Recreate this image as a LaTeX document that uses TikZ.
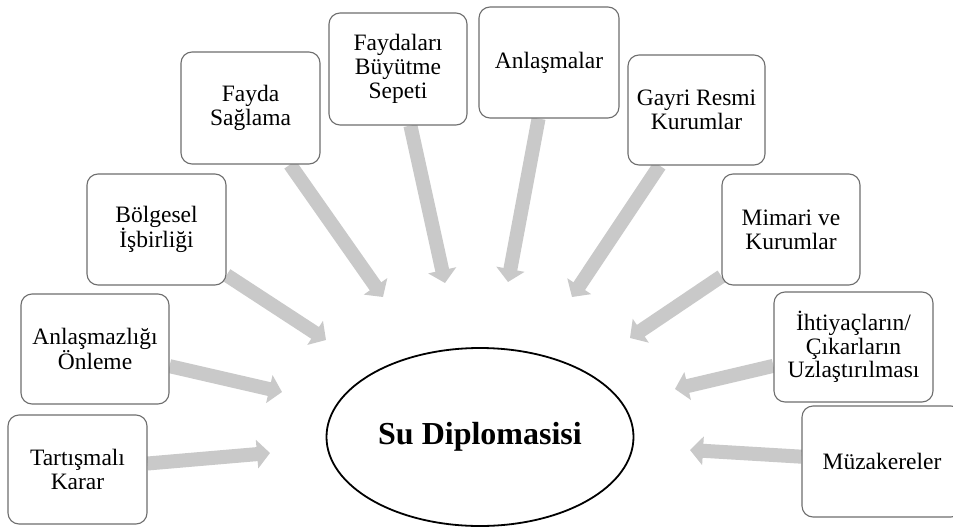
\documentclass[tikz,border=0pt]{standalone}
\usepackage{fontspec}
\setmainfont{Liberation Serif}
\usetikzlibrary{shapes.geometric,arrows.meta,backgrounds}
\definecolor{arrowgray}{HTML}{C9C9C9}
\definecolor{boxgray}{HTML}{6E6E6E}
\tikzset{
  itembox/.style={draw=boxgray, line width=1.1pt, fill=white, rounded corners=11pt,
    align=center, inner sep=2pt, font=\fontsize{23.5}{23.8}\selectfont},
  bigarrow/.style={draw=arrowgray, line width=14pt,
    -{Triangle[width=28pt,length=13pt]}},
  center/.style={draw=black, line width=1.8pt, ellipse, inner sep=0pt,
    minimum width=307pt, minimum height=178pt, fill=white,
    font=\fontsize{32}{36}\selectfont\bfseries}
}
\begin{document}
\begin{tikzpicture}[x=1pt,y=-1pt]
\clip (0,0) rectangle (953,530);
% boxes
\node[itembox, minimum width=139pt, minimum height=109pt] (tk) at (77.5,469.5) {Tartışmalı\\Karar};
\node[itembox, minimum width=148pt, minimum height=110pt] (ao) at (95,349) {Anlaşmazlığı\\Önleme};
\node[itembox, minimum width=139pt, minimum height=111pt] (bi) at (156.5,229.5) {Bölgesel\\İşbirliği};
\node[itembox, minimum width=139pt, minimum height=112pt] (fs) at (250.5,108) {Fayda\\Sağlama};
\node[itembox, minimum width=138pt, minimum height=112pt] (fb) at (398,69) {Faydaları\\Büyütme\\Sepeti};
\node[itembox, minimum width=140pt, minimum height=111pt] (an) at (549,62.5) {Anlaşmalar};
\node[itembox, minimum width=137pt, minimum height=110pt] (gr) at (696.5,110) {Gayri Resmi\\Kurumlar};
\node[itembox, minimum width=138pt, minimum height=111pt] (mk) at (791,229.5) {Mimari ve\\Kurumlar};
\node[itembox, minimum width=159pt, minimum height=110pt] (ih) at (853.5,347) {İhtiyaçların/\\Çıkarların\\Uzlaştırılması};
\node[itembox, minimum width=160pt, minimum height=111pt] (mz) at (882,461.5) {Müzakereler};
% centre
\node[center] (su) at (480,437) {Su Diplomasisi};
% arrow tips
\coordinate (ttk) at (270,453);
\coordinate (tao) at (282,392);
\coordinate (tbi) at (326,340);
\coordinate (tfs) at (383,297);
\coordinate (tfb) at (445,283);
\coordinate (tan) at (508,282);
\coordinate (tgr) at (572,297);
\coordinate (tmk) at (630,338);
\coordinate (tih) at (675,389);
\coordinate (tmz) at (690,450);
\begin{scope}[on background layer]
\fill[white] (0,0) rectangle (953,530);
\foreach \b in {tk,ao,bi,fs,fb,an,gr,mk,ih,mz}
  \draw[bigarrow] (\b) -- (t\b);
\end{scope}
\end{tikzpicture}
\end{document}
